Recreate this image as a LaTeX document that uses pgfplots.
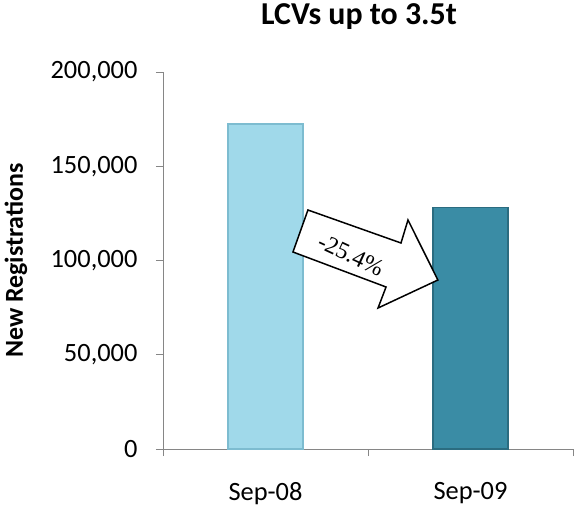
\documentclass[border=0pt]{standalone}
\usepackage{pgfplots}
\pgfplotsset{compat=1.18}
\usepackage{fontspec}
\setmainfont{Carlito}
\newfontfamily\seriffont{Liberation Serif}
\definecolor{barA}{HTML}{A0D9EA}
\definecolor{barAedge}{HTML}{7DBCD0}
\definecolor{barB}{HTML}{3A8CA5}
\definecolor{barBedge}{HTML}{2B6C80}
\definecolor{axisgray}{HTML}{868686}
\begin{document}
\begin{tikzpicture}
\begin{axis}[
  name=ax,
  scale only axis, width=410bp, height=377bp,
  xmin=-0.5, xmax=1.5, ymin=0, ymax=200000,
  axis x line*=bottom, axis y line*=left,
  axis line style={axisgray, line width=0.8pt},
  xtick={0,1}, xticklabels={Sep-08,Sep-09},
  minor xtick={-0.5,0.5,1.5},
  major x tick style={draw=none},
  ytick={0,50000,100000,150000,200000},
  tick style={axisgray, line width=0.8pt},
  tick align=outside,
  major tick length=7bp, minor tick length=7bp,
  scaled y ticks=false,
  /pgf/number format/assume math mode=true,
  /pgf/number format/fixed,
  /pgf/number format/1000 sep={,},
  tick label style={font=\fontsize{26.5}{30}\selectfont, black},
  xticklabel style={yshift=-23bp},
  yticklabel style={xshift=-15bp},
  title={LCVs up to 3.5t},
  title style={font=\bfseries\fontsize{32}{38}\selectfont, at={(rel axis cs:0.478,1)}, anchor=base, yshift=42bp},
  ylabel={New Registrations},
  every axis y label/.style={at={(rel axis cs:-0.3585,0.5)}, rotate=90, anchor=center, font=\bfseries\fontsize{26}{30}\selectfont},
]
\addplot[ybar, bar shift=0pt, bar width=0.366, fill=barA, draw=barAedge, line width=1.2pt] coordinates {(0,172400)};
\addplot[ybar, bar shift=0pt, bar width=0.366, fill=barB, draw=barBedge, line width=1.2pt] coordinates {(1,128300)};
\draw[black, line width=1.5pt, fill=white, line join=miter]
  (axis cs:0.207,126790) -- (axis cs:0.661,109280) -- (axis cs:0.695,121490) --
  (axis cs:0.841,89650) -- (axis cs:0.549,74800) -- (axis cs:0.588,85940) --
  (axis cs:0.134,104510) -- cycle;
\node[rotate=-25, font=\seriffont\fontsize{24}{28}\selectfont] at (axis cs:0.417,102900) {-25.4\%};
\end{axis}
\pgfresetboundingbox
\path[use as bounding box] ([xshift=-163bp,yshift=-57bp]ax.south west) rectangle ([xshift=3bp,yshift=72bp]ax.north east);
\end{tikzpicture}
\end{document}
